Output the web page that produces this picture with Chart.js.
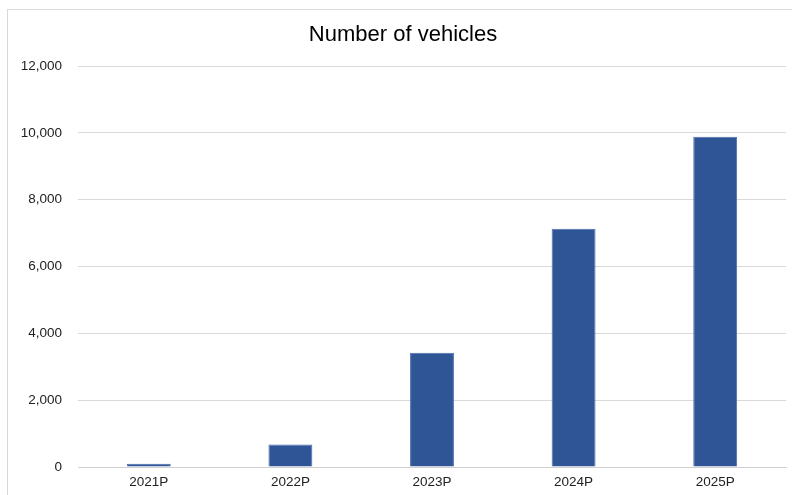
<!DOCTYPE html>
<html>
<head>
<meta charset="utf-8">
<script src="https://cdn.jsdelivr.net/npm/chart.js@4"></script>
<style>
  html, body { margin: 0; padding: 0; background: #fff; }
  body { width: 792px; height: 495px; position: relative; overflow: hidden; }
  .frame { position: absolute; left: 7px; top: 9px; width: 800px; height: 500px; border: 1px solid #d9d9d9; box-sizing: border-box; }
  #myChart { position: absolute; left: 0; top: 0; }
</style>
</head>
<body>
<div class="frame"></div>
<canvas id="myChart" width="792" height="495"></canvas>
<script>
// data
const years = ["2021P", "2022P", "2023P", "2024P", "2025P"];
const vehicles = [100, 670, 3420, 7130, 9880];
const yTicks = [0, 2000, 4000, 6000, 8000, 10000, 12000];

Chart.defaults.font.family = "'Liberation Sans', Arial, Helvetica, sans-serif";
Chart.defaults.color = "#333";

// title in the original sits a bit right of the canvas centre
const nudgeTitle = {
  id: 'nudgeTitle',
  afterLayout(chart) {
    const t = chart.titleBlock;
    if (t) { t.left += 10; t.right += 10; }
  }
};

const ctx = document.getElementById('myChart');
new Chart(ctx, {
  type: 'bar',
  data: {
    labels: years,
    datasets: [{
      label: 'Number of vehicles',
      data: vehicles,
      backgroundColor: '#2f5597',
      borderColor: '#4d6fab',
      borderWidth: 1,
      barPercentage: 0.31,
      categoryPercentage: 1
    }]
  },
  options: {
    responsive: false,
    animation: false,
    devicePixelRatio: 1,
    layout: { padding: { left: 0, right: 6, top: 0, bottom: 0 } },
    plugins: {
      legend: { display: false },
      tooltip: { enabled: false },
      title: {
        display: true,
        text: 'Number of vehicles',
        color: '#000',
        font: { size: 22, weight: 'normal' },
        padding: { top: 21.5, bottom: 18.1 }
      }
    },
    scales: {
      x: {
        grid: { display: false, drawTicks: false },
        border: { display: true, color: '#d0d0d0', width: 1 },
        ticks: { padding: 7, color: '#222', font: { size: 13.5 }, maxRotation: 0, autoSkip: false },
        afterFit: (scale) => { scale.height = 28; }
      },
      y: {
        min: 0,
        max: 12000,
        afterBuildTicks: (scale) => { scale.ticks = yTicks.map(v => ({ value: v })); },
        grid: { color: '#dadada', drawTicks: false },
        border: { display: false },
        ticks: {
          padding: 16,
          autoSkip: false,
          color: '#222',
          font: { size: 13.5 },
          callback: (v) => v.toLocaleString('en-US')
        },
        afterFit: (scale) => { scale.width = 78; }
      }
    }
  },
  plugins: [nudgeTitle]
});
</script>
</body>
</html>
